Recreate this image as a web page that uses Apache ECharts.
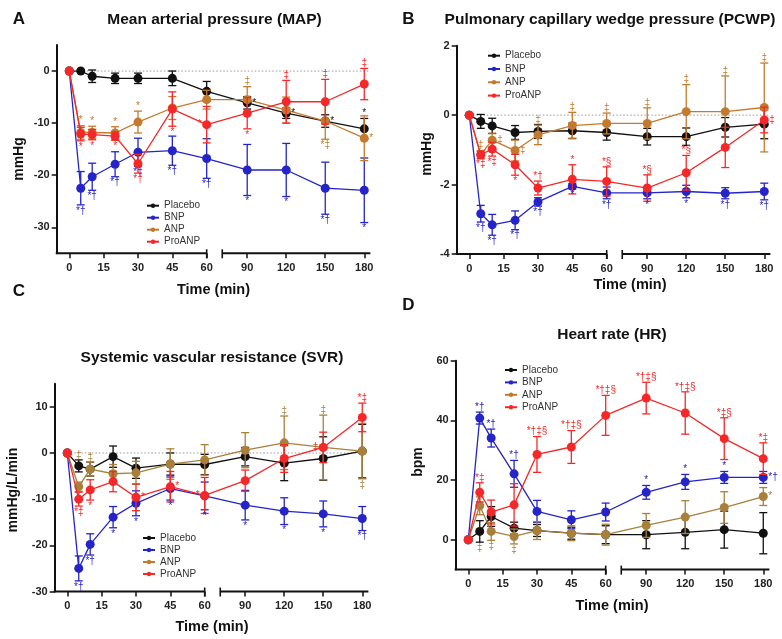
<!DOCTYPE html>
<html><head><meta charset="utf-8">
<script src="https://cdn.jsdelivr.net/npm/echarts@6/dist/echarts.min.js"></script>
<style>html,body{margin:0;padding:0;background:#fff}#c{width:782px;height:639px}</style>
</head><body><div id="c"></div>
<script>
// ---------- shared ----------
const times = [0, 5, 10, 20, 30, 45, 60, 90, 120, 150, 180];
const xTickTimes = [0, 15, 30, 45, 60, 90, 120, 150, 180];
const groupNames = ['Placebo', 'BNP', 'ANP', 'ProANP'];

// ---------- A: MAP ----------
const mapYTicks = [-30, -20, -10, 0];
const mapPlacebo    = [0, 0, -1.0, -1.4, -1.4, -1.4, -3.9, -6.1, -8.1, -9.6, -11.1];
const mapPlaceboErr = [0, 0, 1.2, 1.0, 1.0, 1.4, 1.9, 1.2, 1.0, 1.2, 2.0];
const mapBNP        = [0, -22.5, -20.3, -17.9, -15.6, -15.3, -16.8, -19.0, -19.0, -22.5, -22.9];
const mapBNPErr     = [0, 3.2, 2.6, 2.4, 2.7, 2.8, 3.8, 4.9, 5.1, 5.0, 6.2];
const mapANP        = [0, -11.8, -11.8, -11.9, -9.8, -7.1, -5.5, -5.5, -7.5, -9.6, -12.9];
const mapANPErr     = [0, 1.3, 1.2, 1.2, 2.1, 2.2, 1.8, 2.5, 2.5, 3.5, 4.3];
const mapProANP     = [0, -12.1, -12.2, -12.5, -17.8, -7.3, -10.3, -8.1, -5.9, -5.9, -2.5];
const mapProANPErr  = [0, 1.3, 1.0, 0.8, 1.8, 3.3, 3.5, 3.0, 4.1, 4.3, 3.0];
const mapNotesAbove = [['ANP',5,'*'],['ANP',10,'*'],['ANP',20,'*'],['ANP',30,'*'],['ANP',90,'‡'],['ProANP',120,'‡'],['ProANP',150,'‡'],['ProANP',180,'‡'],['Placebo',180,'*']];
const mapNotesBelow = [['BNP',5,'*†'],['BNP',10,'*†'],['BNP',20,'*†'],['BNP',30,'*†'],['BNP',45,'*†'],['BNP',60,'*†'],['BNP',90,'*'],['BNP',120,'*'],['BNP',150,'*†'],['BNP',180,'*'],['ProANP',5,'*'],['ProANP',10,'*'],['ProANP',20,'*'],['ProANP',30,'*†'],['ProANP',45,'*'],['ProANP',90,'*'],['ANP',150,'*‡']];
const mapNotesRight = [['Placebo',90,'*'],['Placebo',120,'*'],['Placebo',150,'*'],['ANP',180,'*']];
const mapNotesLeft  = [['ProANP',60,'*']];

// ---------- B: PCWP ----------
const pcwpYTicks = [-4, -2, 0, 2];
const pcwpPlacebo    = [0, -0.18, -0.31, -0.5, -0.47, -0.45, -0.5, -0.62, -0.62, -0.35, -0.26];
const pcwpPlaceboErr = [0, 0.2, 0.22, 0.2, 0.2, 0.22, 0.22, 0.24, 0.25, 0.28, 0.42];
const pcwpBNP        = [0, -2.84, -3.16, -3.03, -2.5, -2.05, -2.24, -2.24, -2.2, -2.25, -2.2];
const pcwpBNPErr     = [0, 0.24, 0.3, 0.27, 0.12, 0.08, 0.17, 0.17, 0.18, 0.16, 0.24];
const pcwpANP        = [0, -1.14, -0.72, -1.02, -0.57, -0.3, -0.24, -0.24, 0.1, 0.1, 0.22];
const pcwpANPErr     = [0, 0.12, 0.2, 0.3, 0.28, 0.38, 0.3, 0.45, 0.78, 1.03, 1.28];
const pcwpProANP     = [0, -1.14, -0.98, -1.43, -2.1, -1.85, -1.91, -2.1, -1.66, -0.93, -0.14];
const pcwpProANPErr  = [0, 0.1, 0.2, 0.3, 0.2, 0.42, 0.42, 0.38, 0.5, 0.58, 0.37];
const pcwpNotesAbove = [['ANP',5,'‡'],['ANP',30,'‡'],['ANP',45,'‡'],['ANP',60,'‡'],['ANP',90,'‡'],['ANP',120,'‡'],['ANP',150,'‡'],['ANP',180,'‡'],['ProANP',30,'*†'],['ProANP',45,'*'],['ProANP',60,'*§'],['ProANP',90,'*§'],['ProANP',120,'*§']];
const pcwpNotesBelow = [['BNP',5,'*†'],['BNP',10,'*†'],['BNP',20,'*†'],['BNP',30,'*†'],['BNP',45,'*'],['BNP',60,'*†'],['BNP',90,'*'],['BNP',120,'*'],['BNP',150,'*†'],['BNP',180,'*†'],['ProANP',5,'*‡'],['ProANP',10,'*‡'],['ProANP',20,'*']];
const pcwpNotesRight = [['ANP',10,'‡'],['ANP',20,'‡'],['ProANP',180,'‡']];

// ---------- C: SVR ----------
const svrYTicks = [-30, -20, -10, 0, 10];
const svrPlacebo    = [0, -2.8, -3.5, -0.8, -3.3, -2.4, -2.5, -0.8, -2.2, -1.2, 0.4];
const svrPlaceboErr = [0, 1.3, 1.5, 2.3, 2.2, 2.4, 2.2, 2.0, 3.8, 4.7, 5.8];
const svrBNP        = [0, -25.0, -19.8, -13.9, -10.9, -7.7, -9.3, -11.3, -12.6, -13.2, -14.2];
const svrBNPErr     = [0, 2.7, 2.3, 2.3, 2.7, 2.5, 3.0, 3.2, 2.9, 2.8, 2.6];
const svrANP        = [0, -7.3, -3.5, -4.5, -4.3, -2.4, -1.5, 0.6, 2.2, 1.2, 0.4];
const svrANPErr     = [0, 1.0, 1.5, 2.0, 2.5, 3.3, 3.3, 3.8, 5.8, 7.0, 6.0];
const svrProANP     = [0, -10.0, -8.0, -6.2, -9.6, -7.3, -9.2, -6.0, -1.2, 1.2, 7.7];
const svrProANPErr  = [0, 1.5, 2.2, 2.2, 2.9, 3.3, 3.9, 2.3, 3.0, 3.3, 3.1];
const svrNotesAbove = [['ANP',10,'‡'],['ANP',120,'‡'],['ANP',150,'‡'],['ProANP',180,'*‡']];
const svrNotesOverAll = [['ANP',5,'‡']];
const svrNotesBelow = [['BNP',5,'*†'],['BNP',10,'*†'],['BNP',20,'*'],['BNP',30,'*'],['BNP',45,'*'],['BNP',60,'*'],['BNP',90,'*'],['BNP',120,'*'],['BNP',150,'*'],['BNP',180,'*†'],['ProANP',5,'*‡'],['ProANP',10,'*'],['ANP',180,'‡']];
const svrNotesRight = [['ProANP',30,'*'],['ProANP',45,'*']];
const svrNotesLeft  = [['ProANP',60,'*'],['ProANP',150,'‡']];

// ---------- D: HR ----------
const hrYTicks = [0, 20, 40, 60];
const hrPlacebo    = [0, 2.8, 7.8, 3.9, 3.1, 2.2, 1.7, 1.7, 2.5, 3.4, 2.2];
const hrPlaceboErr = [0, 3.6, 3.3, 2.0, 2.0, 2.0, 3.0, 4.7, 5.5, 6.2, 6.9];
const hrBNP        = [0, 40.8, 34.1, 22.1, 9.5, 6.7, 9.3, 15.9, 19.4, 20.9, 20.9];
const hrBNPErr     = [0, 2.0, 3.0, 4.5, 3.7, 3.0, 3.0, 2.3, 2.5, 2.0, 2.0];
const hrANP        = [0, 11.4, 2.8, 1.1, 3.1, 2.2, 1.7, 4.8, 7.6, 10.8, 14.5];
const hrANPErr     = [0, 3.0, 3.0, 2.5, 3.0, 2.5, 3.5, 4.0, 5.5, 5.3, 3.0];
const hrProANP     = [0, 15.9, 9.3, 11.7, 28.6, 31.1, 41.7, 47.5, 42.5, 33.9, 27.2];
const hrProANPErr  = [0, 3.2, 4.0, 7.1, 6.0, 5.5, 6.7, 5.3, 7.1, 7.0, 5.3];
const hrNotesAbove = [['BNP',5,'*†'],['BNP',10,'*†'],['BNP',20,'*†'],['BNP',90,'*'],['BNP',120,'*'],['BNP',150,'*'],['ProANP',5,'*‡'],['ProANP',30,'*†‡§'],['ProANP',45,'*†‡§'],['ProANP',60,'*†‡§'],['ProANP',90,'*†‡§'],['ProANP',120,'*†‡§'],['ProANP',150,'*‡§'],['ProANP',180,'*‡']];
const hrNotesUnderAll = [['ANP',5,'‡'],['ANP',10,'‡'],['ANP',20,'‡']];
const hrNotesRight = [['BNP',180,'*†'],['ANP',180,'*']];

// ---------- axis mapping (broken time axis) ----------
function xmap(t) { return t <= 60 ? t : 77.7 + (t - 90) * 0.568; }
const X_MIN = -5.5, X_MAX = 131.5, BREAK_START = 66.8;
const xTickPos = xTickTimes.map(xmap);
const FONT = '"Liberation Sans", Arial, Helvetica, sans-serif';

const panels = [
  { letter: 'A', title: 'Mean arterial pressure (MAP)', yName: 'mmHg', yMin: -35, yMax: 5, yTicks: mapYTicks,
    data: { Placebo: [mapPlacebo, mapPlaceboErr], BNP: [mapBNP, mapBNPErr], ANP: [mapANP, mapANPErr], ProANP: [mapProANP, mapProANPErr] },
    notes: { above: mapNotesAbove, below: mapNotesBelow, right: mapNotesRight, left: mapNotesLeft },
    anpColor: '#c47a2e', zero: true,
    grid: { left: 56.7, top: 45, width: 313.7, height: 208.3 },
    legend: { left: 146, top: 200.7, itemGap: 2 },
    letterXY: [19, 19], titleXY: [214.5, 19.3], yNameXY: [19, 159], xNameXY: [213.5, 289.5] },
  { letter: 'B', title: 'Pulmonary capillary wedge pressure (PCWP)', yName: 'mmHg', yMin: -4, yMax: 2, yTicks: pcwpYTicks,
    data: { Placebo: [pcwpPlacebo, pcwpPlaceboErr], BNP: [pcwpBNP, pcwpBNPErr], ANP: [pcwpANP, pcwpANPErr], ProANP: [pcwpProANP, pcwpProANPErr] },
    notes: { above: pcwpNotesAbove, below: pcwpNotesBelow, right: pcwpNotesRight },
    anpColor: '#c47a2e', zero: true,
    grid: { left: 456.7, top: 45.7, width: 313.7, height: 208.3 },
    legend: { left: 487, top: 50.7, itemGap: 3.3 },
    letterXY: [408.5, 19], titleXY: [610, 19.5], yNameXY: [427.5, 154], xNameXY: [630, 285] },
  { letter: 'C', title: 'Systemic vascular resistance (SVR)', yName: 'mmHg/L/min', yMin: -30, yMax: 15, yTicks: svrYTicks,
    data: { Placebo: [svrPlacebo, svrPlaceboErr], BNP: [svrBNP, svrBNPErr], ANP: [svrANP, svrANPErr], ProANP: [svrProANP, svrProANPErr] },
    notes: { above: svrNotesAbove, overAll: svrNotesOverAll, below: svrNotesBelow, right: svrNotesRight, left: svrNotesLeft },
    anpColor: '#a8803c', zero: true,
    grid: { left: 54.7, top: 383.7, width: 313.7, height: 207.8 },
    legend: { left: 142, top: 533, itemGap: 2 },
    letterXY: [19, 291], titleXY: [212, 357.5], yNameXY: [13.5, 490], xNameXY: [212, 626.5] },
  { letter: 'D', title: 'Heart rate (HR)', yName: 'bpm', yMin: -10, yMax: 60, yTicks: hrYTicks,
    data: { Placebo: [hrPlacebo, hrPlaceboErr], BNP: [hrBNP, hrBNPErr], ANP: [hrANP, hrANPErr], ProANP: [hrProANP, hrProANPErr] },
    notes: { above: hrNotesAbove, underAll: hrNotesUnderAll, right: hrNotesRight },
    anpColor: '#a8803c', zero: false,
    grid: { left: 455.7, top: 360.8, width: 313.7, height: 208.8 },
    legend: { left: 504, top: 365, itemGap: 2.4 },
    letterXY: [408.5, 305], titleXY: [612, 334.7], yNameXY: [418, 462], xNameXY: [612, 605.5] }
];

const option = { animation: false, backgroundColor: '#fff', grid: [], xAxis: [], yAxis: [], legend: [], series: [], graphic: { elements: [] } };

panels.forEach((p, i) => {
  const colors = { Placebo: '#111111', BNP: '#2424c8', ANP: p.anpColor, ProANP: '#f42828' };
  const zOf = { Placebo: 2, BNP: 3, ANP: 4, ProANP: 5 };
  option.grid.push(Object.assign({ containLabel: false }, p.grid));
  option.xAxis.push({
    type: 'value', gridIndex: i, min: X_MIN, max: X_MAX,
    axisLine: { show: false, onZero: false }, splitLine: { show: false },
    axisTick: { show: true, length: 5, customValues: xTickPos, lineStyle: { color: '#111', width: 1.5 } },
    axisLabel: { customValues: xTickPos, margin: 9, fontSize: 11, fontWeight: 'bold', color: '#222', fontFamily: FONT,
      formatter: v => { const k = xTickPos.findIndex(q => Math.abs(q - v) < 0.05); return k >= 0 ? String(xTickTimes[k]) : ''; } }
  });
  option.yAxis.push({
    type: 'value', gridIndex: i, min: p.yMin, max: p.yMax,
    axisLine: { show: true, onZero: false, lineStyle: { color: '#111', width: 2 } }, splitLine: { show: false },
    axisTick: { show: true, length: 5, customValues: p.yTicks, lineStyle: { color: '#111', width: 1.5 } },
    axisLabel: { customValues: p.yTicks, margin: 7, fontSize: 11, fontWeight: 'bold', color: '#222', fontFamily: FONT }
  });

  // axis decoration: broken x-axis line + zero reference line
  option.series.push({
    type: 'custom', xAxisIndex: i, yAxisIndex: i, silent: true, z: 1, clip: false,
    data: [[0, 0]],
    renderItem: (params, api) => {
      const a = api.coord([X_MIN, p.yMin]), b = api.coord([60, p.yMin]);
      const c = api.coord([BREAK_START, p.yMin]), d = api.coord([X_MAX, p.yMin]);
      const st = { stroke: '#111', lineWidth: 2 };
      const ch = [
        { type: 'line', shape: { x1: a[0] - 1, y1: a[1], x2: b[0], y2: b[1] }, style: st },
        { type: 'line', shape: { x1: c[0], y1: c[1], x2: d[0], y2: d[1] }, style: st },
        { type: 'line', shape: { x1: b[0], y1: b[1] - 4, x2: b[0], y2: b[1] + 5 }, style: { stroke: '#111', lineWidth: 1.6 } },
        { type: 'line', shape: { x1: c[0], y1: c[1] - 4, x2: c[0], y2: c[1] + 5 }, style: { stroke: '#111', lineWidth: 1.6 } }
      ];
      if (p.zero) {
        const z0 = api.coord([0, 0]), z1 = api.coord([X_MAX, 0]);
        ch.push({ type: 'line', shape: { x1: z0[0], y1: z0[1], x2: z1[0], y2: z1[1] }, style: { stroke: '#9a9a9a', lineWidth: 1, lineDash: [1.5, 2] } });
      }
      return { type: 'group', children: ch };
    }
  });

  groupNames.forEach(name => {
    const [vals, errs] = p.data[name];
    const col = colors[name];
    option.series.push({
      type: 'line', name, xAxisIndex: i, yAxisIndex: i, z: zOf[name] + 1, clip: false,
      data: times.map((t, k) => [xmap(t), vals[k]]),
      symbol: 'circle', symbolSize: 9, showSymbol: true,
      lineStyle: { width: 1.3, color: col }, itemStyle: { color: col }
    });
    option.series.push({
      type: 'custom', xAxisIndex: i, yAxisIndex: i, z: zOf[name] + 1, silent: true, clip: false,
      data: times.map((t, k) => [xmap(t), vals[k] - errs[k], vals[k] + errs[k]]).filter((d, k) => errs[k] > 0),
      renderItem: (params, api) => {
        const x = api.value(0);
        const lo = api.coord([x, api.value(1)]), hi = api.coord([x, api.value(2)]);
        const st = { stroke: col, lineWidth: 1.3 };
        return { type: 'group', children: [
          { type: 'line', shape: { x1: lo[0], y1: lo[1], x2: hi[0], y2: hi[1] }, style: st },
          { type: 'line', shape: { x1: lo[0] - 4, y1: lo[1], x2: lo[0] + 4, y2: lo[1] }, style: st },
          { type: 'line', shape: { x1: hi[0] - 4, y1: hi[1], x2: hi[0] + 4, y2: hi[1] }, style: st }
        ] };
      }
    });
  });

  // significance annotations
  const notes = [];
  const idxOf = t => times.indexOf(t);
  Object.keys(p.notes).forEach(kind => {
    p.notes[kind].forEach(([name, t, text]) => {
      const k = idxOf(t);
      const [vals, errs] = p.data[name];
      let y = vals[k];
      if (kind === 'above') y = vals[k] + errs[k];
      else if (kind === 'below') y = vals[k] - errs[k];
      else if (kind === 'overAll') y = Math.max(...groupNames.map(g => p.data[g][0][k] + p.data[g][1][k]));
      else if (kind === 'underAll') y = Math.min(...groupNames.map(g => p.data[g][0][k] - p.data[g][1][k]));
      notes.push({ x: xmap(t), y, text, kind, color: colors[name] });
    });
  });
  option.series.push({
    type: 'custom', xAxisIndex: i, yAxisIndex: i, z: 8, silent: true, clip: false,
    data: notes.map(n => [n.x, n.y]),
    renderItem: (params, api) => {
      const n = notes[params.dataIndex];
      const pt = api.coord([api.value(0), api.value(1)]);
      let x = pt[0], y = pt[1], align = 'center', va = 'middle';
      if (n.kind === 'above' || n.kind === 'overAll') { va = 'bottom'; }
      else if (n.kind === 'below' || n.kind === 'underAll') { va = 'top'; y += 1; }
      else if (n.kind === 'right') { align = 'left'; x += 5; }
      else if (n.kind === 'left') { align = 'right'; x -= 5; }
      return { type: 'text', x, y, style: { text: n.text, fill: n.color, fontSize: 10, fontFamily: FONT, align, verticalAlign: va } };
    }
  });

  option.legend.push({
    data: groupNames, orient: 'vertical', left: p.legend.left, top: p.legend.top, itemGap: p.legend.itemGap,
    itemWidth: 12, itemHeight: 5.5, selectedMode: false, padding: 0,
    textStyle: { fontSize: 10, color: '#333', fontFamily: FONT }
  });

  const g = option.graphic.elements;
  g.push({ type: 'text', x: p.letterXY[0], y: p.letterXY[1], style: { text: p.letter, fill: '#111', font: 'bold 17px ' + FONT, align: 'center', verticalAlign: 'middle' } });
  g.push({ type: 'text', x: p.titleXY[0], y: p.titleXY[1], style: { text: p.title, fill: '#111', font: 'bold 15.5px ' + FONT, align: 'center', verticalAlign: 'middle' } });
  g.push({ type: 'text', x: p.xNameXY[0], y: p.xNameXY[1], style: { text: 'Time (min)', fill: '#111', font: 'bold 14.5px ' + FONT, align: 'center', verticalAlign: 'middle' } });
  g.push({ type: 'text', x: p.yNameXY[0], y: p.yNameXY[1], rotation: Math.PI / 2, style: { text: p.yName, fill: '#111', font: 'bold 14px ' + FONT, align: 'center', verticalAlign: 'middle' } });
});

const chart = echarts.init(document.getElementById('c'), null, { renderer: 'canvas' });
chart.setOption(option);
</script>
</body></html>
